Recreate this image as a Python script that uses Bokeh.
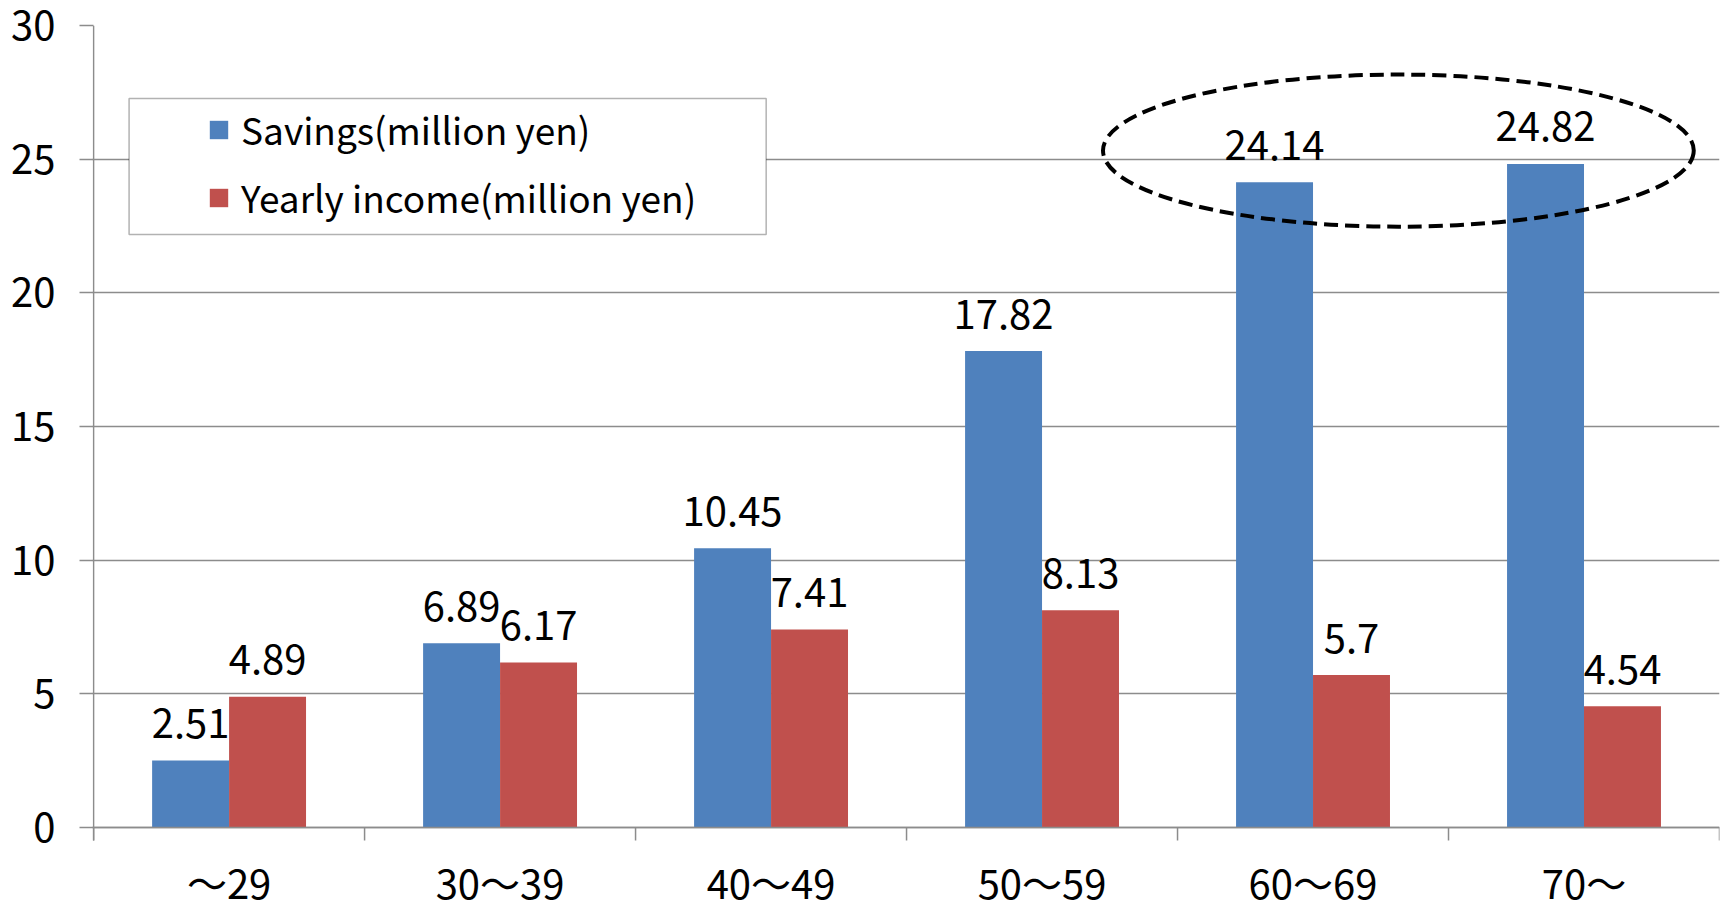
from bokeh.plotting import figure
from bokeh.models import (Range1d, FixedTicker, Legend, LegendItem, BoxAnnotation,
                          ColumnDataSource, Span)
from bokeh.core.properties import value
from bokeh.embed import file_html
from bokeh.resources import INLINE

# Age brackets of the household head
categories = ["～29", "30～39", "40～49", "50～59", "60～69", "70～"]
# Average savings and yearly income, in million yen
savings = [2.51, 6.89, 10.45, 17.82, 24.14, 24.82]
income = [4.89, 6.17, 7.41, 8.13, 5.70, 4.54]
y_ticks = [0, 5, 10, 15, 20, 25, 30]

FONT = "Noto Sans CJK JP"
BLUE = "#4F81BD"
RED = "#C0504D"
GRID = "#8C8C8C"

# the value axis runs 0..30 over 802 px; the frame continues 73 px below zero
# so that the category names can sit under the baseline
Y_MAX = 30
PX_PER_UNIT = 802 / Y_MAX
Y_MIN = -73 / PX_PER_UNIT
TICK = 13 / PX_PER_UNIT

BAR_W = 0.284
n = len(categories)
centers = [i + 0.5 for i in range(n)]
bounds = list(range(n + 1))
sav_x = [c - BAR_W / 2 for c in centers]
inc_x = [c + BAR_W / 2 for c in centers]

p = figure(width=1725, height=900, output_backend="svg", toolbar_location=None,
           x_range=Range1d(-0.004, n), y_range=Range1d(Y_MIN, Y_MAX),
           x_axis_location=None,
           min_border_left=92, min_border_right=6, min_border_top=25,
           min_border_bottom=0)
p.outline_line_color = None
p.background_fill_color = "white"
p.border_fill_color = "white"

# bars
src_s = ColumnDataSource(dict(x=sav_x, top=savings, lab=[f"{v:g}" for v in savings]))
src_i = ColumnDataSource(dict(x=inc_x, top=income, lab=[f"{v:g}" for v in income]))
r_s = p.vbar(x="x", top="top", bottom=0, width=BAR_W, source=src_s,
             fill_color=BLUE, line_color=None)
r_i = p.vbar(x="x", top="top", bottom=0, width=BAR_W, source=src_i,
             fill_color=RED, line_color=None)

# value labels above each bar
for src in (src_s, src_i):
    p.text(x="x", y="top", text="lab", source=src, text_align="center",
           text_baseline="alphabetic", y_offset=-37, text_font=value(FONT),
           text_font_size="40px", text_color="black")

# dashed ellipse around the two oldest brackets' savings
p.ellipse(x=4.815, y=25.32, width=2.18, height=5.69, fill_color=None,
          line_color="black", line_width=4, line_dash="14 7")

# y axis (ticks and labels); its line is drawn below so it stops at the x ticks
p.yaxis.ticker = FixedTicker(ticks=y_ticks)
p.yaxis.axis_line_color = None
p.yaxis.major_tick_line_color = GRID
p.yaxis.major_tick_line_width = 1.5
p.yaxis.major_tick_out = 13
p.yaxis.major_tick_in = 1
p.yaxis.minor_tick_line_color = None
p.yaxis.major_label_standoff = 24
p.yaxis.major_label_text_font = FONT
p.yaxis.major_label_text_font_size = "40px"
p.yaxis.major_label_text_color = "black"
p.ygrid.grid_line_color = GRID
p.ygrid.grid_line_width = 1.5
p.xgrid.grid_line_color = None

p.segment(x0=[0], y0=[-TICK], x1=[0], y1=[Y_MAX], line_color=GRID, line_width=1.5)

# category axis: baseline, boundary ticks and centred names
p.add_layout(Span(location=0, dimension="width", line_color=GRID, line_width=1.5))
p.segment(x0=bounds, y0=[0] * len(bounds), x1=bounds, y1=[-TICK] * len(bounds),
          line_color=GRID, line_width=1.5)
p.text(x=centers, y=[0] * n, text=categories, y_offset=54, text_align="center",
       text_baseline="alphabetic", text_font=value(FONT), text_font_size="40px",
       text_color="black")

# legend frame
p.add_layout(BoxAnnotation(left=0.131, right=2.482, top=27.27, bottom=22.18,
                           fill_color="white", fill_alpha=1.0,
                           line_color="black", line_width=1.5, level="overlay"))

legend = Legend(items=[LegendItem(label="Savings(million yen)", renderers=[r_s]),
                       LegendItem(label="Yearly income(million yen)", renderers=[r_i])],
                location=(115, 676), padding=0, spacing=14, margin=0,
                border_line_color=None, background_fill_alpha=0.0,
                glyph_width=23, glyph_height=23, label_standoff=11,
                label_text_font=FONT, label_text_font_size="37px",
                label_text_color="black")
p.add_layout(legend)

open("out.html", "w").write(file_html(p, INLINE))
